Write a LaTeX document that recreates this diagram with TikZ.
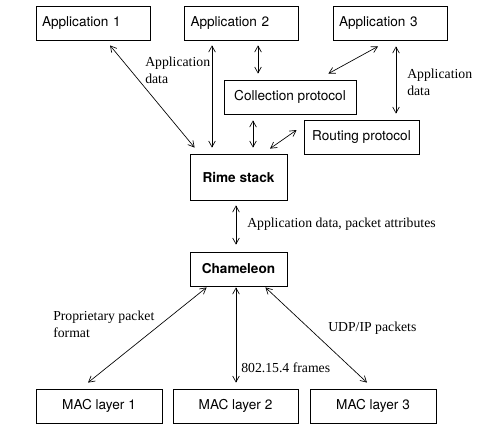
\documentclass[tikz,border=0pt]{standalone}
\usepackage{fontspec}
\setmainfont{Liberation Serif}
\setsansfont{TeX Gyre Heros}
\usetikzlibrary{arrows.meta}

\begin{document}
\begin{tikzpicture}[
        x=0.75pt,y=-0.75pt,
        block/.style={draw,line width=0.6pt,font=\sffamily\fontsize{10.2}{12}\selectfont,minimum height=25.5pt,inner sep=0pt},
        appblock/.style={block,minimum width=85.5pt,text width=76.5pt,align=left},
        macblock/.style={block,minimum width=94.5pt},
        stackblock/.style={block,font=\sffamily\bfseries\fontsize{10.2}{12}\selectfont,minimum width=72.75pt},
        flow/.style={{Straight Barb[length=4.5pt,width=5pt]}-{Straight Barb[length=4.5pt,width=5pt]},line width=0.5pt},
        caption/.style={align=left,inner sep=0pt,font=\fontsize{10.3}{12.7}\selectfont}
    ]

    \useasboundingbox (0,0) rectangle (481,426);

    \node[appblock] (app1) at (93,23) {Application 1};
    \node[appblock] (app2) at (241.5,23) {Application 2};
    \node[appblock] (app3) at (390,23) {Application 3};

    \node[block,minimum width=99pt] (collect) at (290,97) {Collection protocol};
    \node[block,minimum width=86.25pt] (route) at (361.5,137) {Routing protocol};

    \node[stackblock,minimum height=34.5pt] (rime) at (238.5,177) {Rime stack};
    \node[stackblock] (chameleon) at (238.5,269) {Chameleon};

    \node[macblock] (mac1) at (99,406) {MAC layer 1};
    \node[macblock,minimum width=93.75pt] (mac2) at (235.5,406) {MAC layer 2};
    \node[macblock] (mac3) at (373,406) {MAC layer 3};

    \draw[flow] ([xshift=12.75pt,yshift=-3.75pt]app1.south) -- ([xshift=3.75pt,yshift=4.5pt]rime.north west);
    \draw[flow] ([xshift=-22.125pt,yshift=-3.75pt]app2.south) -- ([xshift=-19.875pt,yshift=4.5pt]rime.north);
    \draw[flow] ([xshift=12.375pt,yshift=-3.75pt]app2.south) -- ([xshift=-24pt,yshift=4.5pt]collect.north);
    \draw[flow] ([xshift=-9pt,yshift=-4.5pt]app3.south) -- ([xshift=-21pt,yshift=4.5pt]collect.north east);
    \draw[flow] ([xshift=4.5pt,yshift=-4.5pt]app3.south) -- ([xshift=25.875pt,yshift=4.5pt]route.north);
    \draw[flow] ([xshift=-27.75pt,yshift=-4.5pt]collect.south) -- ([xshift=10.875pt,yshift=4.5pt]rime.north);
    \draw[flow] ([xshift=-5.25pt,yshift=5.25pt]route.west) -- ([xshift=23.625pt,yshift=3.75pt]rime.north);
    \draw[flow] ([xshift=-1.875pt,yshift=-3.75pt]rime.south) -- ([xshift=-1.875pt,yshift=5.25pt]chameleon.north);
    \draw[flow] ([xshift=12.75pt,yshift=-0.75pt]chameleon.south west) -- ([xshift=-8.25pt,yshift=4.5pt]mac1.north);
    \draw[flow] ([xshift=-1.875pt,yshift=-0.75pt]chameleon.south) -- ([xshift=0.375pt,yshift=4.5pt]mac2.north);
    \draw[flow] ([xshift=-16.5pt,yshift=-0.75pt]chameleon.south east) -- ([xshift=-4.5pt,yshift=4.5pt]mac3.north);

    \node[caption,anchor=north west] (appdata1) at (145,57) {Application\\data};
    \node[caption,anchor=north west] (appdata3) at (407,69) {Application\\data};
    \node[caption,anchor=west] (attrs) at (247,224) {Application data, packet attributes};
    \node[caption,anchor=north west] (proprietary) at (53,311) {Proprietary packet\\format};
    \node[caption,anchor=west] (udp) at (328,328) {UDP/IP packets};
    \node[caption,anchor=west] (frames) at (241,368) {802.15.4 frames};

\end{tikzpicture}
\end{document}
